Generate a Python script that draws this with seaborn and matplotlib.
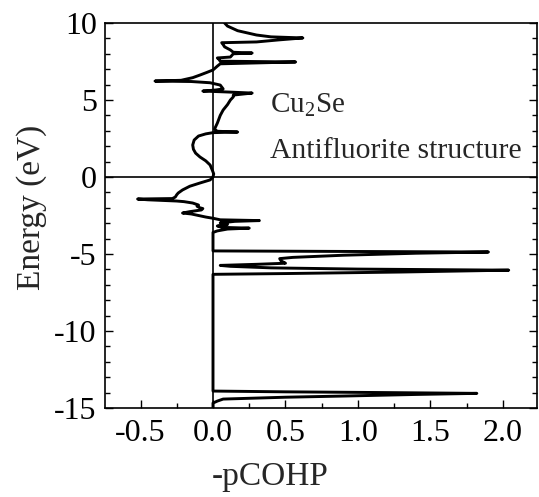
import matplotlib
matplotlib.use("Agg")
import matplotlib.pyplot as plt
import seaborn as sns
import pandas as pd
from matplotlib.ticker import MultipleLocator

# -pCOHP curve (energy in eV, value of -pCOHP)
energy = [
    -15.0, -14.68, -14.55, -14.42, -14.3, -14.22, -14.12, -14.05, -14.0, -13.95, -13.9,
    -6.32, -6.27, -6.17, -6.05, -5.98, -5.9, -5.8, -5.74, -5.67, -5.6, -5.45, -5.3,
    -5.22, -5.08, -4.95, -4.87, -4.83, -4.8,
    -3.6, -3.5, -3.38, -3.32, -3.27, -3.18, -3.08, -2.98, -2.88, -2.83, -2.78, -2.68,
    -2.6, -2.5, -2.4, -2.34, -2.25, -2.14, -2.05, -2.0, -1.9, -1.82, -1.69, -1.6,
    -1.56, -1.48, -1.43, -1.40, -1.30, -1.15, -1.04, -0.84, -0.6, -0.39, -0.19,
    0.0, 0.2, 0.45, 0.78, 1.05, 1.30, 1.55, 1.8, 2.08, 2.4, 2.66, 2.8, 2.88,
    2.92, 2.97, 3.1, 3.5, 4.0, 4.35, 4.7, 5.0, 5.2, 5.32, 5.45, 5.52, 5.58,
    5.65, 5.72, 5.97, 6.12, 6.2, 6.23, 6.28, 6.45, 6.62, 6.8, 6.95, 7.2, 7.35,
    7.47, 7.52, 7.65, 7.73, 7.79, 8.0, 8.05, 8.1, 8.25, 8.45, 8.6, 8.72, 8.77,
    8.9, 9.03, 9.1, 9.22, 9.5, 9.8, 10.0,
]
cohp = [
    0.0, 0.0, 0.03, 0.07, 0.5, 0.92, 1.4, 1.82, 1.2, 0.5, 0.0,
    0.0, 0.5, 1.3, 2.04, 1.0, 0.4, 0.12, 0.05, 0.3, 0.5, 0.47, 0.46,
    0.55, 0.9, 1.4, 1.9, 0.8, 0.0,
    0.0, 0.03, 0.1, 0.25, 0.06, 0.03, 0.1, 0.05, 0.15, 0.32, 0.05, 0.0,
    -0.05, -0.10, -0.15, -0.21, -0.16, -0.08, -0.07, -0.09, -0.11, -0.10, -0.14, -0.20,
    -0.25, -0.45, -0.52, -0.28, -0.26, -0.25, -0.24, -0.21, -0.16, -0.09, -0.02,
    0.0, 0.005, -0.005, -0.02, -0.05, -0.09, -0.12, -0.135, -0.14, -0.13, -0.10, -0.05, 0.0,
    0.17, 0.03, 0.01, 0.03, 0.05, 0.07, 0.10, 0.12, 0.14, 0.14, 0.27, 0.10, -0.07,
    0.02, 0.07, 0.05, -0.02, -0.15, -0.40, -0.22, -0.14, -0.09, -0.04, 0.0, 0.03, 0.05,
    0.57, 0.05, 0.04, 0.03, 0.12, 0.14, 0.27, 0.14, 0.12, 0.08, 0.07, 0.06, 0.3,
    0.45, 0.62, 0.40, 0.30, 0.17, 0.10, 0.08,
]

x_ticks = [-0.5, 0.0, 0.5, 1.0, 1.5, 2.0]
y_ticks = [-15, -10, -5, 0, 5, 10]
compound = "Cu$_\\mathregular{2}$Se"
structure = "Antifluorite structure"

sns.set_style("ticks")
plt.rcParams["font.family"] = ["Liberation Serif", "DejaVu Serif"]
plt.rcParams["mathtext.fontset"] = "custom"
plt.rcParams["mathtext.rm"] = "Liberation Serif"
plt.rcParams["axes.unicode_minus"] = False

W, H = 539, 497
fig = plt.figure(figsize=(W / 100, H / 100), dpi=100)
left, right, top, bottom = 105, 537, 23, 408
ax = fig.add_axes([left / W, 1 - bottom / H, (right - left) / W, (bottom - top) / H])

df = pd.DataFrame({"E": energy, "COHP": cohp})
sns.lineplot(data=df, x="COHP", y="E", sort=False, estimator=None,
             color="black", lw=2.1, ax=ax)

ax.axhline(0, color="black", lw=1.2, zorder=1)
ax.axvline(0, color="black", lw=1.2, zorder=1)

ax.set_xlim(-0.745, 2.235)
ax.set_ylim(-15, 10)
ax.set_xticks(x_ticks)
ax.set_xticklabels([f"{t:.1f}" for t in x_ticks])
ax.set_yticks(y_ticks)
ax.set_yticklabels([str(t) for t in y_ticks])
ax.xaxis.set_minor_locator(MultipleLocator(0.25))
ax.yaxis.set_minor_locator(MultipleLocator(1))

ax.tick_params(axis="both", which="both", direction="in", colors="black")
ax.tick_params(axis="y", which="both", left=True, right=True)
ax.tick_params(axis="x", which="both", top=False, bottom=True)
ax.tick_params(which="major", length=6, width=1.0, labelsize=23)
ax.tick_params(which="minor", length=3.5, width=1.0)
ax.tick_params(axis="x", which="major", pad=8)
ax.tick_params(axis="y", which="major", pad=6)

for s in ax.spines.values():
    s.set_color("black")
    s.set_linewidth(1.2)

ax.set_xlabel("-pCOHP", fontsize=24)
ax.set_ylabel("Energy (eV)", fontsize=24)
ax.xaxis.set_label_coords((270 - left) / (right - left), -0.138)
ax.yaxis.set_label_coords(-0.135, 0.52)

ax.text(0.393, 4.22, compound, fontsize=21, ha="left", va="baseline")
ax.text(0.393, 1.23, structure, fontsize=21.3, ha="left", va="baseline")

fig.savefig("out.png", dpi=100, facecolor="white")
